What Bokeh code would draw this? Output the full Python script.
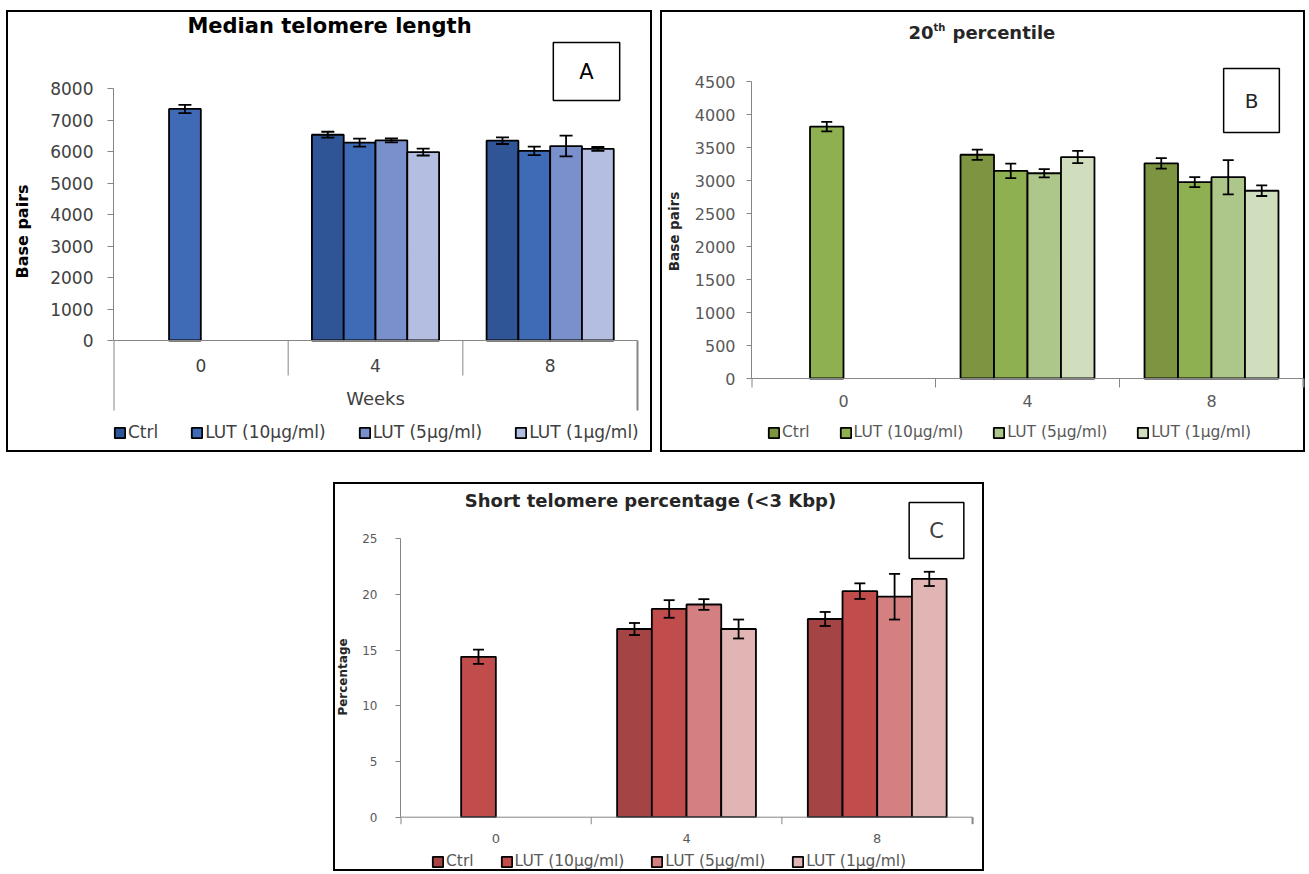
import math
from bokeh.plotting import figure
from bokeh.models import (ColumnDataSource, Range1d, FixedTicker, Whisker, TeeHead,
                          Label, Legend, LegendItem, Spacer)
from bokeh.core.properties import value
from bokeh.layouts import row, column
from bokeh.embed import file_html
from bokeh.resources import INLINE

NAN = float("nan")

WEEKS = ["0", "4", "8"]
SERIES = ["Ctrl", "LUT (10µg/ml)", "LUT (5µg/ml)", "LUT (1µg/ml)"]

# Panel A: median telomere length (base pairs)
A_CTRL = [NAN, 6540, 6350]
A_LUT10 = [7360, 6290, 6030]
A_LUT5 = [NAN, 6360, 6180]
A_LUT1 = [NAN, 5990, 6090]
A_CTRL_ERR = [NAN, 95, 105]
A_LUT10_ERR = [130, 125, 135]
A_LUT5_ERR = [NAN, 60, 330]
A_LUT1_ERR = [NAN, 110, 60]
A_TICKS = [0, 1000, 2000, 3000, 4000, 5000, 6000, 7000, 8000]

# Panel B: 20th percentile (base pairs)
B_CTRL = [NAN, 3390, 3260]
B_LUT10 = [3815, 3145, 2975]
B_LUT5 = [NAN, 3110, 3050]
B_LUT1 = [NAN, 3355, 2845]
B_CTRL_ERR = [NAN, 77, 80]
B_LUT10_ERR = [72, 110, 76]
B_LUT5_ERR = [NAN, 62, 260]
B_LUT1_ERR = [NAN, 93, 80]
B_TICKS = [0, 500, 1000, 1500, 2000, 2500, 3000, 3500, 4000, 4500]

# Panel C: short telomere percentage (<3 Kbp)
C_CTRL = [NAN, 16.9, 17.8]
C_LUT10 = [14.4, 18.7, 20.3]
C_LUT5 = [NAN, 19.1, 19.8]
C_LUT1 = [NAN, 16.9, 21.4]
C_CTRL_ERR = [NAN, 0.54, 0.63]
C_LUT10_ERR = [0.64, 0.79, 0.70]
C_LUT5_ERR = [NAN, 0.48, 2.05]
C_LUT1_ERR = [NAN, 0.85, 0.64]
C_TICKS = [0, 5, 10, 15, 20, 25]

FONT = "DejaVu Sans"
SLOT = 0.182
AXIS_GREY = "#868686"


def make_fig(width, height, left, x_end, y_start, y_end, yticks, ybounds):
    p = figure(width=width, height=height, x_range=Range1d(0, x_end),
               y_range=Range1d(y_start, y_end), output_backend="svg",
               toolbar_location=None, x_axis_location=None,
               min_border_left=left, min_border_right=0,
               min_border_top=0, min_border_bottom=0)
    p.grid.visible = False
    p.outline_line_color = None
    p.border_fill_alpha = 0
    p.background_fill_alpha = 0
    p.styles = {"outline": "2px solid black", "outline-offset": "-2px"}
    p.yaxis.ticker = FixedTicker(ticks=yticks)
    p.yaxis.bounds = ybounds
    p.yaxis.minor_tick_line_color = None
    p.yaxis.axis_line_color = AXIS_GREY
    p.yaxis.major_tick_line_color = AXIS_GREY
    p.yaxis.major_tick_in = 0
    return p


def draw_xaxis(p, inner_len, outer_len, outer_xs, label_y, size, color):
    n = len(WEEKS)
    # baseline
    p.segment(x0=[0], y0=[0], x1=[n], y1=[0], line_color=AXIS_GREY, line_width=1)
    # group separators
    inner = list(range(1, n))
    p.segment(x0=inner, y0=[0] * len(inner), x1=inner, y1=[-inner_len] * len(inner),
              line_color=AXIS_GREY, line_width=1)
    p.segment(x0=outer_xs, y0=[0] * len(outer_xs), x1=outer_xs,
              y1=[-outer_len] * len(outer_xs), line_color=AXIS_GREY, line_width=2)
    # category labels
    p.text(x=[i + 0.5 for i in range(n)], y=[label_y] * n, text=WEEKS,
           text_font=value(FONT), text_font_size=size, text_color=color,
           text_align="center", text_baseline="middle")


def add_bars(p, values, errors, colors, cap):
    rends = []
    for s, (vals, errs, col) in enumerate(zip(values, errors, colors)):
        xs, tops, lo, hi = [], [], [], []
        for g, (v, e) in enumerate(zip(vals, errs)):
            if math.isnan(v):
                continue
            xs.append(g + 0.5 + (s - 1.5) * SLOT)
            tops.append(v)
            lo.append(v - e)
            hi.append(v + e)
        src = ColumnDataSource(dict(x=xs, top=tops, lo=lo, hi=hi))
        r = p.vbar(x="x", top="top", bottom=0, width=SLOT, source=src,
                   fill_color=col, line_color="black", line_width=1.8)
        w = Whisker(source=src, base="x", upper="hi", lower="lo",
                    line_color="black", line_width=1.8, level="overlay",
                    upper_head=TeeHead(size=cap, line_color="black", line_width=1.8),
                    lower_head=TeeHead(size=cap, line_color="black", line_width=1.8))
        p.add_layout(w)
        rends.append(r)
    return rends


def add_legend(p, rends, vx, vy, size, spacing, color, lh):
    leg = Legend(items=[LegendItem(label=s, renderers=[r]) for s, r in zip(SERIES, rends)],
                 location=(vx, vy), orientation="horizontal", glyph_width=13,
                 glyph_height=13, label_height=lh, label_standoff=2, spacing=spacing,
                 padding=0, margin=0, border_line_color=None, background_fill_alpha=0,
                 label_text_font=FONT, label_text_font_size=size, label_text_color=color)
    p.add_layout(leg)


def add_label(p, x, y, text, size, bold=False, align="center", color="black",
              box=None, units="screen"):
    kw = {}
    if box is not None:
        kw = dict(border_line_color="black", border_line_width=1.5,
                  background_fill_color="white", padding=box)
    p.add_layout(Label(x=x, y=y, x_units=units, y_units=units, text=text,
                       text_font=FONT, text_font_size=size,
                       text_font_style="bold" if bold else "normal",
                       text_align=align, text_baseline="middle", text_color=color, **kw))


def style_yaxis(p, tick_out, standoff, size, color):
    p.yaxis.major_tick_out = tick_out
    p.yaxis.major_label_standoff = standoff
    p.yaxis.major_label_text_font = FONT
    p.yaxis.major_label_text_font_size = size
    p.yaxis.major_label_text_color = color


def ylabel(p, text, size, standoff, color):
    p.yaxis.axis_label = text
    p.yaxis.axis_label_text_font = FONT
    p.yaxis.axis_label_text_font_size = size
    p.yaxis.axis_label_text_font_style = "bold"
    p.yaxis.axis_label_text_color = color
    p.yaxis.axis_label_standoff = standoff


# ---------------- Panel A ----------------
KA = 251.7 / 8000.0          # pixels per base pair
pa = make_fig(646, 442, 107, 539 / 174.67, -112 / KA, 330 / KA, A_TICKS, (0, 8000))
ra = add_bars(pa, [A_CTRL, A_LUT10, A_LUT5, A_LUT1],
              [A_CTRL_ERR, A_LUT10_ERR, A_LUT5_ERR, A_LUT1_ERR],
              ["#2F5597", "#3F6AB5", "#7A90CC", "#B3BEE0"], 13)
draw_xaxis(pa, 35 / KA, 70 / KA, [0, len(WEEKS)], -25 / KA, "17px", "#404040")
add_label(pa, 1.5, -58 / KA, "Weeks", "18px", color="#404040", units="data")
style_yaxis(pa, 6, 14, "17px", "#404040")
ylabel(pa, "Base pairs", "16px", 15, "black")
add_label(pa, 216, 427, "Median telomere length", "21px", bold=True)
add_label(pa, 473, 381, "A", "21px", box=(26, 17))
add_legend(pa, ra, 0, 10, "17px", 32, "#404040", 20)

# ---------------- Panel B ----------------
KB = 297 / 4500.0
pb = make_fig(645, 442, 91, 554 / 184.0, -74 / KB, 368 / KB, B_TICKS, (0, 4500))
rb = add_bars(pb, [B_CTRL, B_LUT10, B_LUT5, B_LUT1],
              [B_CTRL_ERR, B_LUT10_ERR, B_LUT5_ERR, B_LUT1_ERR],
              ["#7D9440", "#8FB050", "#ADC689", "#D1DEBD"], 11)
draw_xaxis(pb, 9 / KB, 9 / KB, [0, len(WEEKS)], -22 / KB, "16px", "#595959")
style_yaxis(pb, 5, 11, "16px", "#595959")
ylabel(pb, "Base pairs", "13.5px", 10, "#262626")
add_label(pb, 157, 420, "20", "18px", bold=True, align="left", color="#262626")
add_label(pb, 182, 425, "th", "10px", bold=True, align="left", color="#262626")
add_label(pb, 201, 420, "percentile", "18px", bold=True, align="left", color="#262626")
add_label(pb, 500, 352, "B", "20px", box=(21, 20), color="#262626")
add_legend(pb, rb, 16, 11, "15.5px", 29, "#595959", 18)

# ---------------- Panel C ----------------
KC = 278.4 / 25.0
pc = make_fig(651, 389, 64, 587 / 191.67, -54.3 / KC, 334.7 / KC, C_TICKS, (0, 25))
rc = add_bars(pc, [C_CTRL, C_LUT10, C_LUT5, C_LUT1],
              [C_CTRL_ERR, C_LUT10_ERR, C_LUT5_ERR, C_LUT1_ERR],
              ["#A54444", "#C04C4C", "#D48080", "#E2B5B5"], 11)
draw_xaxis(pc, 7 / KC, 7 / KC, [0, len(WEEKS)], -21 / KC, "13px", "#595959")
style_yaxis(pc, 5, 18, "12px", "#595959")
ylabel(pc, "Percentage", "12px", 9, "#262626")
add_label(pc, 250, 371, "Short telomere percentage (<3 Kbp)", "18px", bold=True, color="#262626")
add_label(pc, 536, 341, "C", "21px", box=(20, 16), color="#404040")
add_legend(pc, rc, 31, 1, "15.5px", 26, "#595959", 18)

layout = column(
    Spacer(width=10, height=10),
    row(Spacer(width=6, height=442), pa, Spacer(width=8, height=442), pb),
    Spacer(width=10, height=30),
    row(Spacer(width=333, height=389), pc),
)

open("out.html", "w").write(file_html(layout, INLINE))
